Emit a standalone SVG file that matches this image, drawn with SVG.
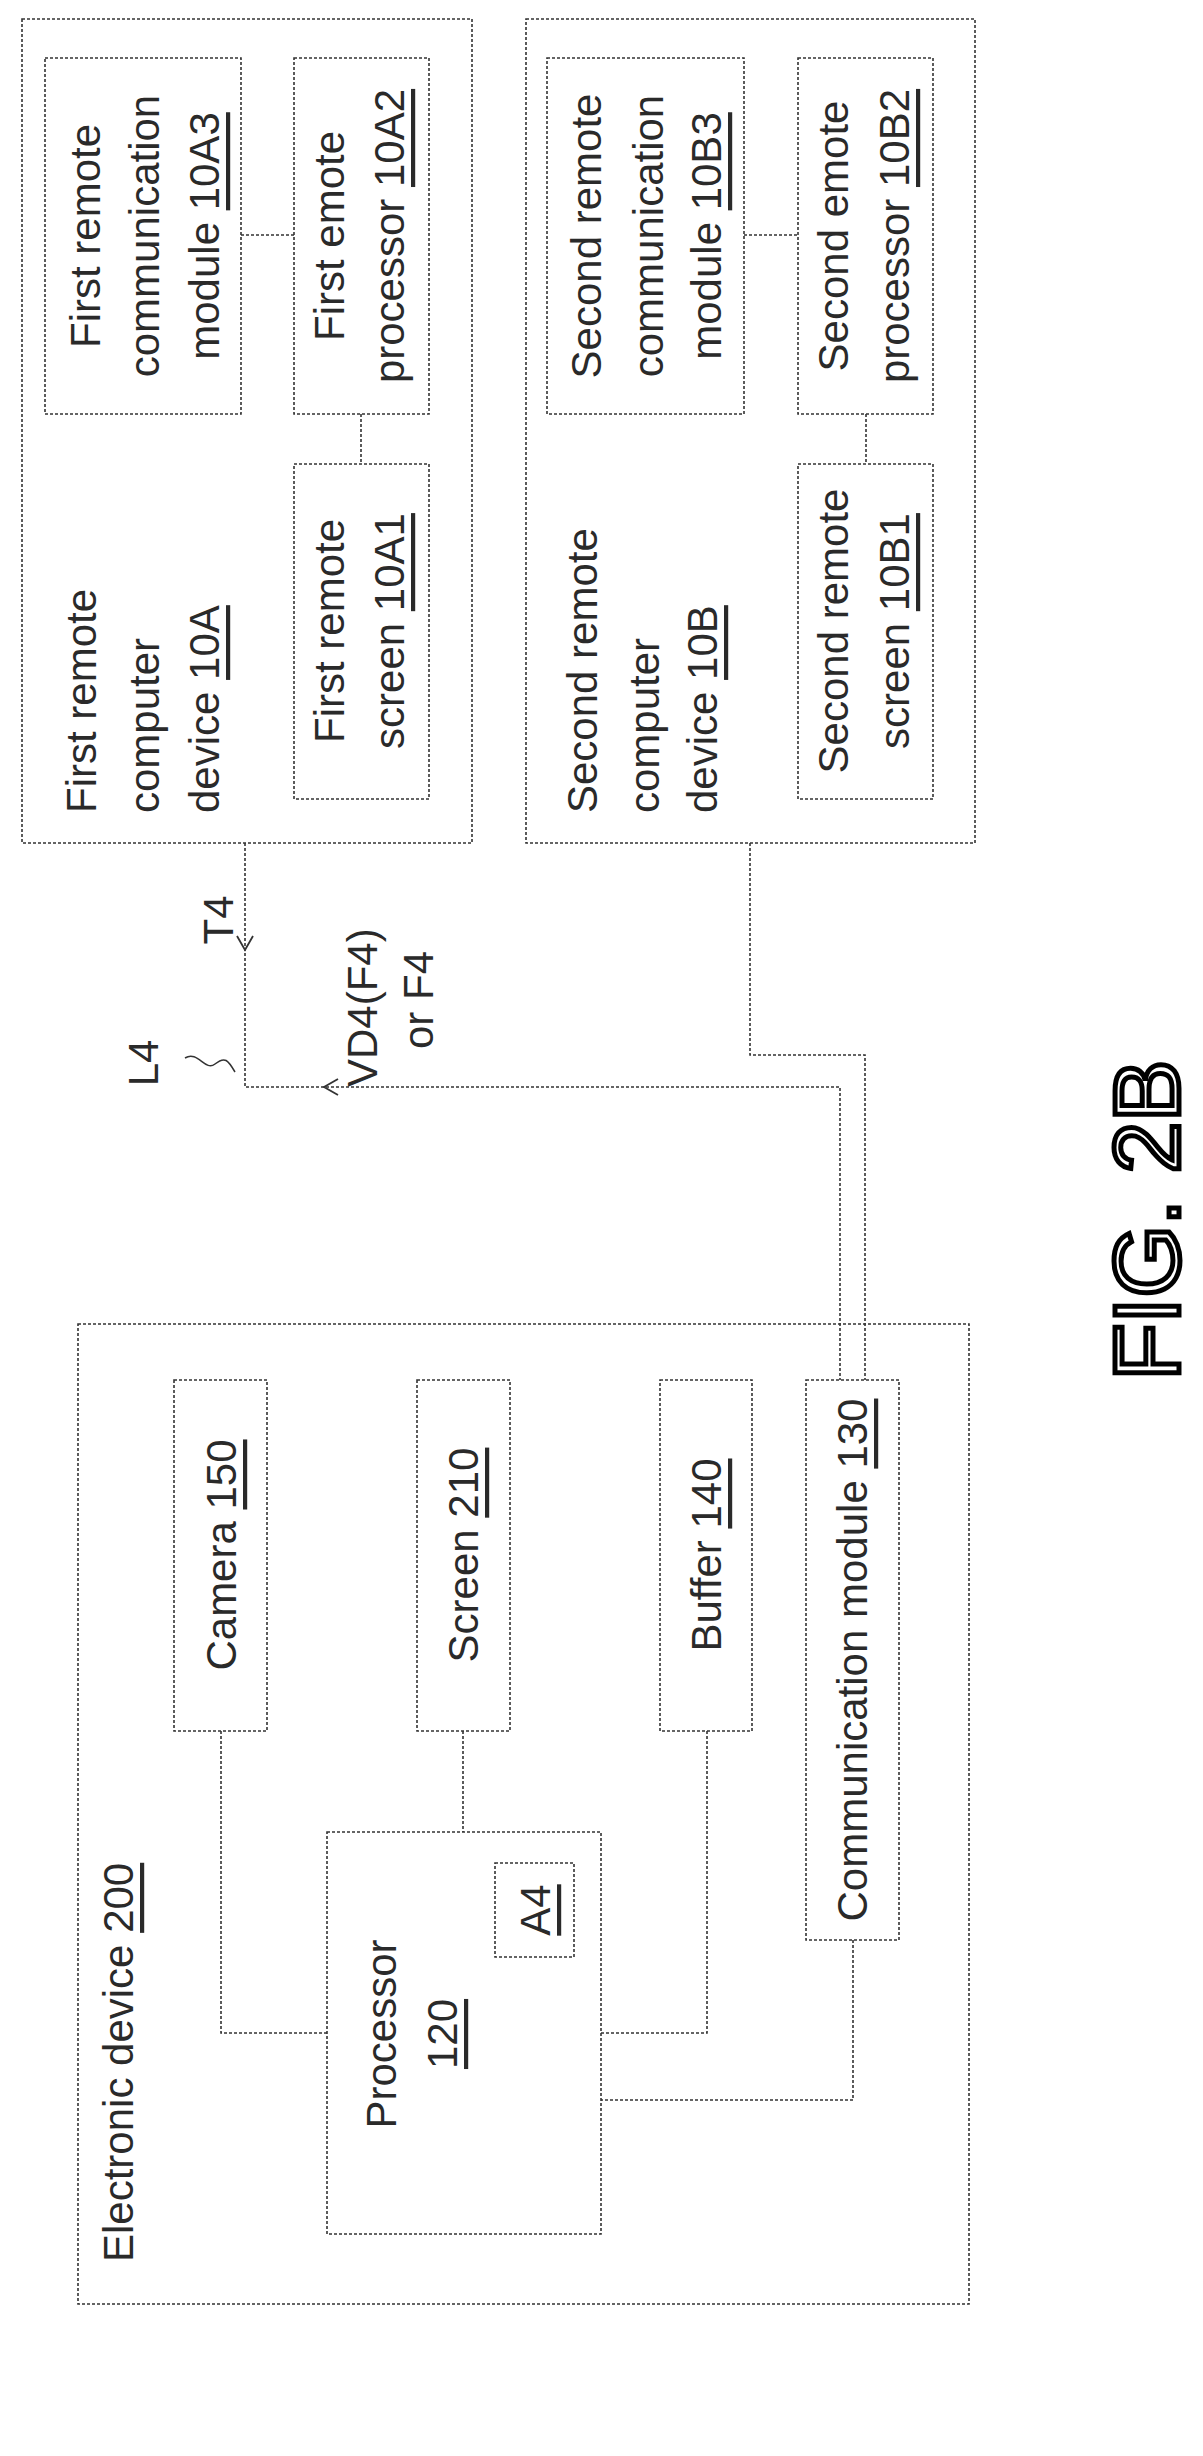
<svg xmlns="http://www.w3.org/2000/svg" width="1203" height="2456" viewBox="0 0 1203 2456">
<style>
.b{fill:none;stroke:#333;stroke-width:1.6;stroke-dasharray:3 2}
.c{fill:none;stroke:#333;stroke-width:1.6;stroke-dasharray:3 2}
text{font-family:"Liberation Sans",Arial,sans-serif;font-size:42px;fill:#2a2a2a;dominant-baseline:central}
.m{text-anchor:middle}
.u{text-decoration:underline}
</style>
<rect width="1203" height="2456" fill="#fff"/>
<g id="dev10A">
<rect class="b" x="22" y="19" width="450" height="824"/>
<text transform="translate(81,813) rotate(-90)">First remote</text>
<text transform="translate(144,813) rotate(-90)">computer</text>
<text transform="translate(204,813) rotate(-90)">device <tspan class="u">10A</tspan></text>
</g>
<g id="n10A3"><rect class="b" x="45" y="58" width="196" height="356"/>
<text class="m" transform="translate(85,236) rotate(-90)">First remote</text>
<text class="m" transform="translate(144,236) rotate(-90)">communication</text>
<text class="m" transform="translate(204,236) rotate(-90)">module <tspan class="u">10A3</tspan></text></g>
<g id="n10A2"><rect class="b" x="294" y="58" width="135" height="356"/>
<text class="m" transform="translate(329,236) rotate(-90)">First emote</text>
<text class="m" transform="translate(389,236) rotate(-90)">processor <tspan class="u">10A2</tspan></text></g>
<g id="n10A1"><rect class="b" x="294" y="464" width="135" height="335"/>
<text class="m" transform="translate(329,631) rotate(-90)">First remote</text>
<text class="m" transform="translate(389,631) rotate(-90)">screen <tspan class="u">10A1</tspan></text></g>
<g id="dev10B">
<rect class="b" x="526" y="19" width="449" height="824"/>
<text transform="translate(582,813) rotate(-90)">Second remote</text>
<text transform="translate(644,813) rotate(-90)">computer</text>
<text transform="translate(702,813) rotate(-90)">device <tspan class="u">10B</tspan></text>
</g>
<g id="n10B3"><rect class="b" x="547" y="58" width="197" height="356"/>
<text class="m" transform="translate(586,236) rotate(-90)">Second remote</text>
<text class="m" transform="translate(648,236) rotate(-90)">communication</text>
<text class="m" transform="translate(706,236) rotate(-90)">module <tspan class="u">10B3</tspan></text></g>
<g id="n10B2"><rect class="b" x="798" y="58" width="135" height="356"/>
<text class="m" transform="translate(833,236) rotate(-90)">Second emote</text>
<text class="m" transform="translate(894,236) rotate(-90)">processor <tspan class="u">10B2</tspan></text></g>
<g id="n10B1"><rect class="b" x="798" y="464" width="135" height="335"/>
<text class="m" transform="translate(833,631) rotate(-90)">Second remote</text>
<text class="m" transform="translate(894,631) rotate(-90)">screen <tspan class="u">10B1</tspan></text></g>
<g id="dev200">
<rect class="b" x="78" y="1324" width="891" height="980"/>
<text transform="translate(118,2262) rotate(-90)">Electronic device <tspan class="u">200</tspan></text>
</g>
<g id="n150"><rect class="b" x="174" y="1380" width="93" height="351"/>
<text class="m" transform="translate(221,1555) rotate(-90)">Camera <tspan class="u">150</tspan></text></g>
<g id="n210"><rect class="b" x="417" y="1380" width="93" height="351"/>
<text class="m" transform="translate(463,1555) rotate(-90)">Screen <tspan class="u">210</tspan></text></g>
<g id="n140"><rect class="b" x="660" y="1380" width="92" height="351"/>
<text class="m" transform="translate(706,1555) rotate(-90)">Buffer <tspan class="u">140</tspan></text></g>
<g id="n130"><rect class="b" x="806" y="1380" width="93" height="560"/>
<text class="m" transform="translate(852,1660) rotate(-90)">Communication module <tspan class="u">130</tspan></text></g>
<g id="n120"><rect class="b" x="327" y="1832" width="274" height="402"/>
<text class="m" transform="translate(381,2034) rotate(-90)">Processor</text>
<text class="m" transform="translate(442,2034) rotate(-90)"><tspan class="u">120</tspan></text></g>
<g id="nA4"><rect class="b" x="495" y="1863" width="79" height="94"/>
<text class="m" transform="translate(535,1910) rotate(-90)"><tspan class="u">A4</tspan></text></g>
<g id="connectors">
<path class="c" d="M241 235H294M744 235H798M361 414V464M866 414V464"/>
<path class="c" d="M221 1731V2033H327M463 1731V1832M707 1731V2033H601M853 1940V2100H601"/>
<path class="c" d="M245 843V1087H840V1380M750 843V1055H865V1380"/>
<path d="M237 936L245 950L253 936" fill="none" stroke="#333" stroke-width="1.8"/>
<path d="M338 1079L324 1087L338 1095" fill="none" stroke="#333" stroke-width="1.8"/>
<path d="M185 1058C198 1050 205 1072 215 1064S228 1060 235 1072" fill="none" stroke="#333" stroke-width="1.5"/>
</g>
<text class="m" transform="translate(218,920) rotate(-90)">T4</text>
<text class="m" transform="translate(143,1063) rotate(-90)">L4</text>
<text transform="translate(362,1087) rotate(-90)">VD4(F4)</text>
<text class="m" transform="translate(418,1000) rotate(-90)">or F4</text>
<text class="m" transform="translate(1147,1220) rotate(-90)" style="font-size:93px;fill:none;stroke:#000;stroke-width:5">FIG. 2B</text>
</svg>
